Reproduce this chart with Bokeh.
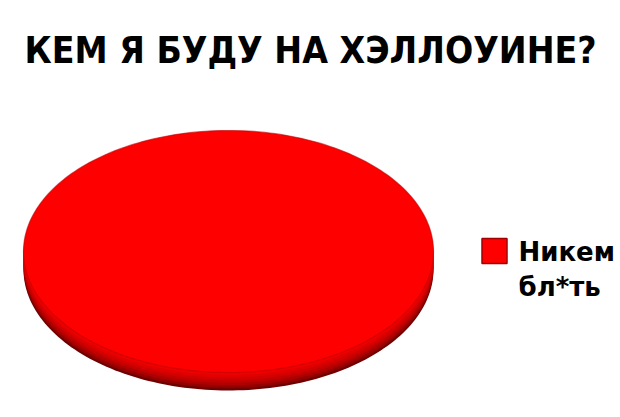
import numpy as np
from bokeh.plotting import figure
from bokeh.models import Range1d
from bokeh.embed import file_html
from bokeh.resources import INLINE
from bokeh.core.properties import value

# ---- data ----
title_text = "КЕМ Я БУДУ НА ХЭЛЛОУИНЕ?"
categories = ["Никем бл*ть"]
values = [100]
colors = ["#fe0000"]

# ---- layout ----
W, H = 620, 417
cx, cy, a, b, depth = 228, 251, 205, 121, 18
side_colors = ["#700000", "#940000", "#ae0000", "#c20000", "#d20000", "#e00000", "#ec0000"]
leg_x, leg_y, leg_size = 494, 250.5, 25
leg_font_px, leg_line_h = 26, 35
leg_text_x, leg_baseline = 518, 262
title_font_px = 37
title_x, title_baseline = 24, 65
shift = 0.4  # measured renderer baseline offset (in em)

p = figure(width=W, height=H, x_range=Range1d(0, W), y_range=Range1d(H, 0),
           x_axis_type=None, y_axis_type=None, toolbar_location=None,
           output_backend="svg", min_border=0, outline_line_color=None,
           background_fill_color="white", border_fill_color="white")
p.grid.visible = False

total = float(sum(values))
bounds = np.concatenate([[0.0], np.cumsum(values)]) / total * 2 * np.pi


def slice_poly(t0, t1, dy=0.0):
    t = np.linspace(t0, t1, 240)
    xs = cx + a * np.cos(t)
    ys = cy + dy + b * np.sin(t)
    if t1 - t0 < 2 * np.pi - 1e-9:
        xs = np.concatenate([[cx], xs])
        ys = np.concatenate([[cy + dy], ys])
    return list(xs), list(ys)


# 3D side of the pie: stacked shaded layers
offsets = np.linspace(depth, depth / len(side_colors), len(side_colors))
for off, col in zip(offsets, side_colors):
    xs_l, ys_l = [], []
    for i in range(len(values)):
        xs, ys = slice_poly(bounds[i], bounds[i + 1], off)
        xs_l.append(xs)
        ys_l.append(ys)
    p.patches(xs_l, ys_l, fill_color=col, line_color=None)

# top face
xs_l, ys_l = [], []
for i in range(len(values)):
    xs, ys = slice_poly(bounds[i], bounds[i + 1])
    xs_l.append(xs)
    ys_l.append(ys)
p.patches(xs_l, ys_l, fill_color=colors, line_color="#c00000", line_width=1.2, line_alpha=0.6)

# legend
for i, (cat, col) in enumerate(zip(categories, colors)):
    p.scatter(x=[leg_x], y=[leg_y], marker="square", size=leg_size,
              fill_color=col, line_color="#a00000", line_width=1.5)
    lines = cat.split(" ")
    y0 = leg_baseline - shift * leg_font_px
    p.text(x=[leg_text_x] * len(lines),
           y=[y0 + leg_line_h * k for k in range(len(lines))],
           text=lines, text_font=value("DejaVu Sans"), text_font_style="bold",
           text_font_size=f"{leg_font_px}px", text_baseline="alphabetic", text_align="left",
           text_color="black")

# title
p.text(x=[title_x], y=[title_baseline - shift * title_font_px], text=[title_text],
       text_font=value("DejaVu Sans Condensed, Liberation Sans"), text_font_style="bold",
       text_font_size=f"{title_font_px}px", text_baseline="alphabetic", text_align="left",
       text_color="black")

open("out.html", "w").write(file_html(p, INLINE))
